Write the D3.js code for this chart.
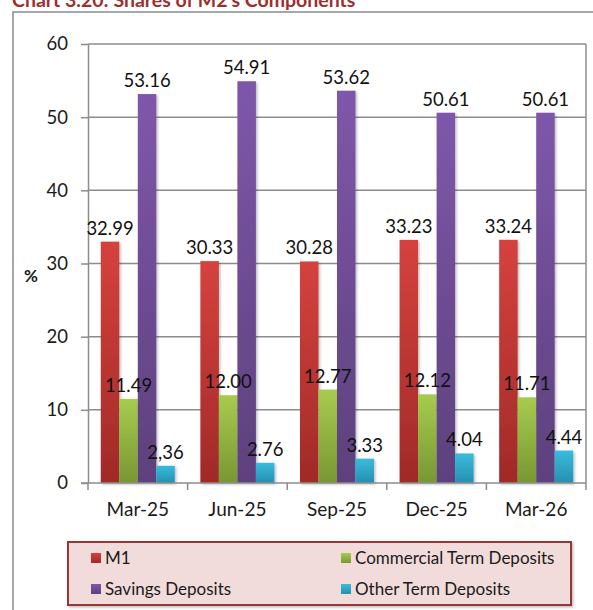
<!DOCTYPE html>
<html>
<head>
<meta charset="utf-8">
<script src="https://cdn.jsdelivr.net/npm/d3@7"></script>
<style>
  html, body { margin: 0; padding: 0; background: #ffffff; }
  svg { display: block; font-family: Lato, "Open Sans", sans-serif; }
</style>
</head>
<body>
<svg id="chart" width="593" height="610"></svg>
<script>
// Quarters on the category axis
const categories = ["Mar-25", "Jun-25", "Sep-25", "Dec-25", "Mar-26"];

// Shares of M2 (%) by component
const m1 = [32.99, 30.33, 30.28, 33.23, 33.24];
const commercialTerm = [11.49, 12.00, 12.77, 12.12, 11.71];
const savings = [53.16, 54.91, 53.62, 50.61, 50.61];
const otherTerm = [2.36, 2.76, 3.33, 4.04, 4.44];
const otherTermLabels = ["2,36", "2.76", "3.33", "4.04", "4.44"];

const yTicks = [0, 10, 20, 30, 40, 50, 60];

const series = [
  { key: "m1", name: "M1", values: m1, top: "#d5423e", bottom: "#a02a27" },
  { key: "ctd", name: "Commercial Term Deposits", values: commercialTerm, top: "#a6cc4e", bottom: "#789733" },
  { key: "sav", name: "Savings Deposits", values: savings, top: "#7e57aa", bottom: "#5d417d" },
  { key: "otd", name: "Other Term Deposits", values: otherTerm, top: "#3abbdd", bottom: "#2590b0",
    labels: otherTermLabels }
];

const svg = d3.select("#chart");
const defs = svg.append("defs");

series.forEach(s => {
  const g = defs.append("linearGradient")
    .attr("id", "grad-" + s.key)
    .attr("x1", 0).attr("y1", 0).attr("x2", 0).attr("y2", 1);
  g.append("stop").attr("offset", "0%").attr("stop-color", s.top);
  g.append("stop").attr("offset", "100%").attr("stop-color", s.bottom);
});

const shadow = defs.append("filter").attr("id", "shadow")
  .attr("x", "-20%").attr("y", "-20%").attr("width", "150%").attr("height", "150%");
shadow.append("feDropShadow")
  .attr("dx", 1.5).attr("dy", 1.5).attr("stdDeviation", 1.2)
  .attr("flood-color", "#000").attr("flood-opacity", 0.25);

// Title (sits partly above the page edge)
svg.append("text")
  .attr("x", 12).attr("y", 6.5)
  .attr("font-size", 19.5).attr("font-weight", "bold")
  .attr("fill", "#9b2f2d")
  .text("Chart 3.20: Shares of M2's Components");

// Outer chart frame
svg.append("rect")
  .attr("x", 13).attr("y", 12)
  .attr("width", 600).attr("height", 620)
  .attr("fill", "none").attr("stroke", "#8a8a8a").attr("stroke-width", 1.5);

const plot = { left: 88, right: 586, top: 44, bottom: 483 };

const x = d3.scaleBand().domain(categories).range([plot.left, plot.right]);
const xInner = d3.scaleBand().domain(series.map(s => s.key))
  .range([0, x.bandwidth()]).paddingInner(0).paddingOuter(0.69);
const y = d3.scaleLinear().domain([0, 60]).range([plot.bottom, plot.top]);

// Horizontal gridlines
svg.append("g").selectAll("line").data(yTicks.filter(t => t > 0)).join("line")
  .attr("x1", plot.left).attr("x2", plot.right)
  .attr("y1", d => y(d)).attr("y2", d => y(d))
  .attr("stroke", "#8c8c8c").attr("stroke-width", 1.5);

// Plot area right border
svg.append("line")
  .attr("x1", plot.right).attr("x2", plot.right)
  .attr("y1", plot.top).attr("y2", plot.bottom)
  .attr("stroke", "#8c8c8c").attr("stroke-width", 1.5);

// Y axis
const yAxis = svg.append("g")
  .attr("transform", `translate(${plot.left},0)`)
  .call(d3.axisLeft(y).tickValues(yTicks).tickSize(7).tickPadding(13).tickSizeOuter(0));
yAxis.select(".domain").attr("stroke", "#8c8c8c").attr("stroke-width", 1.5);
yAxis.selectAll(".tick line").attr("stroke", "#8c8c8c").attr("stroke-width", 1.5);
yAxis.selectAll(".tick text")
  .attr("font-family", "Lato, sans-serif").attr("font-size", 18.5).attr("fill", "#1a1a1a");

svg.append("text")
  .attr("x", 31).attr("y", 282)
  .attr("text-anchor", "middle")
  .attr("font-size", 17).attr("font-weight", "bold").attr("fill", "#1a1a1a")
  .text("%");

// Bars
const groups = svg.append("g").selectAll("g").data(categories).join("g")
  .attr("transform", d => `translate(${x(d)},0)`);

series.forEach(s => {
  groups.append("rect")
    .attr("x", xInner(s.key))
    .attr("width", xInner.bandwidth())
    .attr("y", (d, i) => y(s.values[i]))
    .attr("height", (d, i) => y(0) - y(s.values[i]))
    .attr("fill", `url(#grad-${s.key})`)
    .attr("filter", "url(#shadow)");
});

// X axis
const xAxis = svg.append("g")
  .attr("transform", `translate(0,${plot.bottom})`)
  .call(d3.axisBottom(x).tickSize(0).tickPadding(20).tickSizeOuter(0));
xAxis.select(".domain").remove();
xAxis.selectAll(".tick text")
  .attr("font-family", "Lato, sans-serif").attr("font-size", 19).attr("fill", "#1a1a1a");
svg.append("line")
  .attr("x1", plot.left - 7).attr("x2", plot.right)
  .attr("y1", plot.bottom).attr("y2", plot.bottom)
  .attr("stroke", "#8c8c8c").attr("stroke-width", 1.5);
svg.append("g").selectAll("line")
  .data(categories.map(c => x(c)).concat([plot.right])).join("line")
  .attr("x1", d => d).attr("x2", d => d)
  .attr("y1", plot.bottom).attr("y2", plot.bottom + 7)
  .attr("stroke", "#8c8c8c").attr("stroke-width", 1.5);

// Value labels
const fmt = d3.format(".2f");
series.forEach(s => {
  groups.append("text")
    .attr("x", xInner(s.key) + xInner.bandwidth() / 2)
    .attr("y", (d, i) => y(s.values[i]) - 7)
    .attr("text-anchor", "middle")
    .attr("font-size", 18.5).attr("fill", "#111")
    .text((d, i) => s.labels ? s.labels[i] : fmt(s.values[i]));
});

// Legend
const legend = svg.append("g");
legend.append("rect")
  .attr("x", 68).attr("y", 542).attr("width", 503).attr("height", 63)
  .attr("fill", "#f2dcdb").attr("stroke", "#953735").attr("stroke-width", 2)
  .attr("filter", "url(#shadow)");

const legendPos = [
  { x: 91, y: 558 }, { x: 341, y: 558 },
  { x: 91, y: 589 }, { x: 341, y: 589 }
];
const legendOrder = ["m1", "ctd", "sav", "otd"];
legendOrder.forEach((k, i) => {
  const s = series.find(d => d.key === k);
  const p = legendPos[i];
  legend.append("rect")
    .attr("x", p.x).attr("y", p.y - 5).attr("width", 10).attr("height", 10)
    .attr("fill", `url(#grad-${s.key})`);
  legend.append("text")
    .attr("x", p.x + 14).attr("y", p.y)
    .attr("dy", "0.35em")
    .attr("font-size", 17).attr("fill", "#1a1a1a")
    .text(s.name);
});
</script>
</body>
</html>
